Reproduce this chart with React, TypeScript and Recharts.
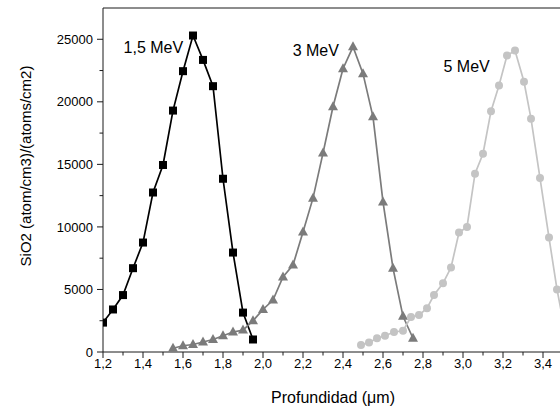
import React from 'react';
import { LineChart, Line, XAxis, YAxis, ReferenceDot, ReferenceLine } from 'recharts';

// 1,5 MeV implant profile
const depth15 = [1.2, 1.25, 1.3, 1.35, 1.4, 1.45, 1.5, 1.55, 1.6, 1.65, 1.7, 1.75, 1.8, 1.85, 1.9, 1.95];
const sio2_15 = [2350, 3400, 4550, 6700, 8750, 12750, 14950, 19300, 22450, 25300, 23350, 21250, 13850, 7950, 3150, 1000];

// 3 MeV
const depth3 = [1.55, 1.6, 1.65, 1.7, 1.75, 1.8, 1.85, 1.9, 1.95, 2.0, 2.05, 2.1, 2.15, 2.2, 2.25, 2.3, 2.35, 2.4, 2.45, 2.5, 2.55, 2.6, 2.65, 2.7, 2.75];
const sio2_3 = [300, 500, 600, 800, 1000, 1300, 1600, 1750, 2500, 3400, 4150, 6000, 6950, 9600, 12300, 15900, 19600, 22650, 24400, 22250, 18800, 12000, 6700, 2850, 1100];

// 5 MeV
const depth5 = [2.49, 2.53, 2.57, 2.61, 2.655, 2.7, 2.74, 2.78, 2.82, 2.855, 2.9, 2.94, 2.98, 3.02, 3.06, 3.1, 3.14, 3.18, 3.22, 3.26, 3.305, 3.34, 3.385, 3.43, 3.47, 3.51];
const sio2_5 = [560, 750, 1100, 1300, 1600, 1700, 2800, 2950, 3500, 4550, 5500, 6750, 9550, 10000, 14250, 15850, 19250, 21300, 23700, 24100, 21600, 18650, 13900, 9150, 5000, 1700];

const xTicks = [1.2, 1.3, 1.4, 1.5, 1.6, 1.7, 1.8, 1.9, 2.0, 2.1, 2.2, 2.3, 2.4, 2.5, 2.6, 2.7, 2.8, 2.9, 3.0, 3.1, 3.2, 3.3, 3.4, 3.5];
const yTicks = [0, 2500, 5000, 7500, 10000, 12500, 15000, 17500, 20000, 22500, 25000];

const seriesLabels = [
  { text: '1,5 MeV', x: 1.452, y: 24320 },
  { text: '3 MeV', x: 2.264, y: 24080 },
  { text: '5 MeV', x: 3.018, y: 22850 },
];

const FONT = 'Arial, "Liberation Sans", sans-serif';
const AXIS = '#1a1a1a';

const pts = (xs: number[], ys: number[]) => xs.map((x, i) => ({ x, y: ys[i] }));

const XTick = (props: any) => {
  const { x, y, payload } = props;
  const major = Math.round(payload.value * 10) % 2 === 0;
  const top = y - 7;
  return (
    <g>
      <line x1={x} x2={x} y1={top} y2={top + (major ? 6 : 3.5)} stroke={AXIS} />
      {major && (
        <text x={x} y={y} dy="0.71em" textAnchor="middle" fontSize={13} fontFamily={FONT} fill="#000">
          {payload.value.toFixed(1).replace('.', ',')}
        </text>
      )}
    </g>
  );
};

const YTick = (props: any) => {
  const { x, y, payload } = props;
  const major = payload.value % 5000 === 0;
  const ax = x + 10;
  return (
    <g>
      <line x1={ax} x2={ax - (major ? 6 : 3.5)} y1={y} y2={y} stroke={AXIS} />
      {major && (
        <text x={x} y={y} dy="0.355em" textAnchor="end" fontSize={13} fontFamily={FONT} fill="#000">
          {payload.value}
        </text>
      )}
    </g>
  );
};

const square = (p: any) => (
  <rect key={p.index} x={p.cx - 4} y={p.cy - 4} width={8} height={8} fill="#000" />
);
const triangle = (p: any) => (
  <path
    key={p.index}
    d={`M${p.cx},${p.cy - 5.5} L${p.cx + 5},${p.cy + 3.5} L${p.cx - 5},${p.cy + 3.5} Z`}
    fill="#7b7b7b"
  />
);
const circle = (p: any) => <circle key={p.index} cx={p.cx} cy={p.cy} r={4} fill="#c4c4c4" />;

export default function App() {
  return (
    <div style={{ width: 560, height: 408, overflow: 'hidden', background: '#fff' }}>
      <style>{'body{margin:0}'}</style>
      <LineChart width={575} height={408} margin={{ top: 8, right: 12, bottom: 0, left: 0 }}>
        <XAxis
          type="number"
          dataKey="x"
          domain={[1.2, 3.5]}
          ticks={xTicks}
          interval={0}
          allowDataOverflow
          height={56}
          stroke={AXIS}
          tickLine={false}
          tickSize={6}
          tickMargin={1}
          tick={<XTick />}
          label={{
            content: (p: any) => (
              <text
                x={p.viewBox.x + p.viewBox.width / 2}
                y={p.viewBox.y + 51}
                textAnchor="middle"
                fontSize={16}
                fontFamily={FONT}
                fill="#000"
              >
                Profundidad (μm)
              </text>
            ),
          }}
        />
        <YAxis
          type="number"
          dataKey="y"
          domain={[0, 27500]}
          ticks={yTicks}
          interval={0}
          width={103}
          stroke={AXIS}
          tickLine={false}
          tickSize={6}
          tickMargin={4}
          tick={<YTick />}
          label={{
            content: (p: any) => (
              <text
                transform={`translate(31,${p.viewBox.y + p.viewBox.height / 2 - 14}) rotate(-90)`}
                textAnchor="middle"
                fontSize={15}
                fontFamily={FONT}
                fill="#000"
              >
                SiO2 (atom/cm3)/(atoms/cm2)
              </text>
            ),
          }}
        />
        <ReferenceLine y={27500} stroke={AXIS} />
        <ReferenceLine x={3.5} stroke={AXIS} />
        <Line
          data={pts(depth15, sio2_15)}
          dataKey="y"
          stroke="#000"
          strokeWidth={1.7}
          dot={square}
          isAnimationActive={false}
        />
        <Line
          data={pts(depth3, sio2_3)}
          dataKey="y"
          stroke="#7b7b7b"
          strokeWidth={1.7}
          dot={triangle}
          isAnimationActive={false}
        />
        <Line
          data={pts(depth5, sio2_5)}
          dataKey="y"
          stroke="#c4c4c4"
          strokeWidth={1.7}
          dot={circle}
          isAnimationActive={false}
        />
        {seriesLabels.map((l) => (
          <ReferenceDot
            key={l.text}
            x={l.x}
            y={l.y}
            r={0}
            fill="none"
            stroke="none"
            label={{ value: l.text, position: 'center', fontSize: 16, fontFamily: FONT, fill: '#000' }}
          />
        ))}
      </LineChart>
    </div>
  );
}
